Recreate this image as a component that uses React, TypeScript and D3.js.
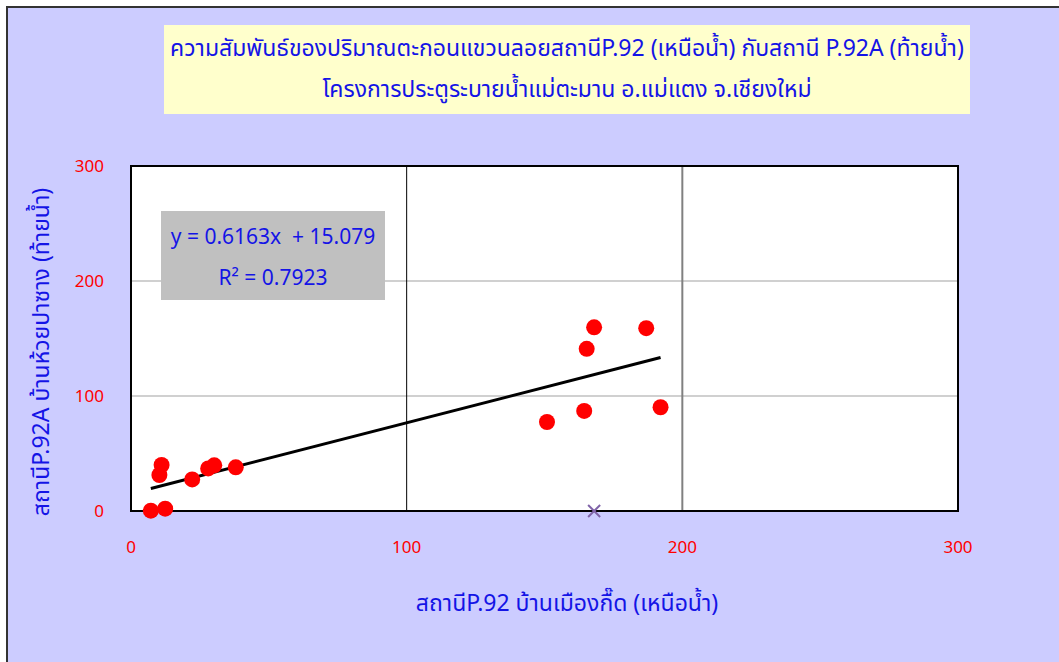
import React from "react";
import * as d3 from "d3";

const xValues = [7.2, 12.4, 11.1, 10.3, 22.2, 28.0, 30.2, 38.0, 168.0, 186.9, 165.3, 164.4, 150.9, 192.1];
const yValues = [0.3, 2.0, 40.0, 31.3, 27.5, 37.0, 39.7, 38.0, 159.7, 159.0, 141.0, 87.0, 77.4, 90.2];
const otherX = [168];
const otherY = [0];
const xTicks = [0, 100, 200, 300];
const yTicks = [0, 100, 200, 300];
const slope = 0.6163;
const intercept = 15.079;
const r2 = 0.7923;

const titleLines = [
  "ความสัมพันธ์ของปริมาณตะกอนแขวนลอยสถานีP.92 (เหนือน้ำ) กับสถานี  P.92A (ท้ายน้ำ)",
  "โครงการประตูระบายน้ำแม่ตะมาน อ.แม่แตง จ.เชียงใหม่",
];
const xLabel = "สถานีP.92 บ้านเมืองกื๊ด (เหนือน้ำ)";
const yLabel = "สถานีP.92A บ้านห้วยปาซาง (ท้ายน้ำ)";

const FONT = "Tahoma, 'Noto Sans Thai', 'Noto Sans', 'DejaVu Sans', sans-serif";
const BLUE = "#1414E6";

export default function App() {
  const W = 1059, H = 662;
  const left = 131, right = 958, top = 166, bottom = 511;
  const x = d3.scaleLinear().domain([0, 300]).range([left, right]);
  const y = d3.scaleLinear().domain([0, 300]).range([bottom, top]);
  const xmin = d3.min(xValues)!;
  const xmax = d3.max(xValues)!;
  const trend = d3.line<number>().x((v) => x(v)).y((v) => y(slope * v + intercept));

  return (
    <svg width={W} height={H} style={{ position: "absolute", left: 0, top: 0 }} fontFamily={FONT}>
      <rect x={0} y={0} width={W} height={H} fill="#ffffff" />
      <rect x={7} y={7} width={W + 20} height={H + 20} fill="#CCCCFF" stroke="#333333" strokeWidth={2} />
      {/* title box */}
      <rect x={164} y={25} width={806} height={89} fill="#FFFFCC" />
      {titleLines.map((t, i) => (
        <text key={i} x={567} y={56 + i * 41} textAnchor="middle" fontSize={23} fill={BLUE}>
          {t}
        </text>
      ))}
      {/* plot area */}
      <rect x={left} y={top} width={right - left} height={bottom - top} fill="#ffffff" />
      {yTicks.filter((v) => v > 0 && v < 300).map((v) => (
        <line key={"hy" + v} x1={left} x2={right} y1={y(v)} y2={y(v)} stroke="#C0C0C0" strokeWidth={1.5} />
      ))}
      {xTicks.filter((v) => v > 0 && v < 300).map((v, i) => (
        <line key={"vx" + v} x1={x(v)} x2={x(v)} y1={top} y2={bottom}
          stroke={i === 0 ? "#000000" : "#808080"} strokeWidth={i === 0 ? 1 : 2} />
      ))}
      <rect x={left} y={top} width={right - left} height={bottom - top} fill="none" stroke="#000" strokeWidth={2} />
      {/* ticks */}
      {yTicks.map((v) => (
        <text key={"ty" + v} x={104} y={y(v) + 6} textAnchor="end" fontSize={17} fill="#FF0000">{v}</text>
      ))}
      {xTicks.map((v) => (
        <text key={"tx" + v} x={x(v)} y={553} textAnchor="middle" fontSize={17} fill="#FF0000">{v}</text>
      ))}
      {/* trend line */}
      <path d={trend([xmin, xmax]) || ""} stroke="#000" strokeWidth={3} fill="none" />
      {/* points */}
      {xValues.map((v, i) => (
        <circle key={"p" + i} cx={x(v)} cy={y(yValues[i])} r={8} fill="#FF0000" />
      ))}
      {otherX.map((v, i) => {
        const cx = x(v), cy = y(otherY[i]);
        const s = 6;
        return (
          <g key={"o" + i} stroke="#7F63A8" strokeWidth={2}>
            <line x1={cx - s} y1={cy - s} x2={cx + s} y2={cy + s} />
            <line x1={cx - s} y1={cy + s} x2={cx + s} y2={cy - s} />
          </g>
        );
      })}
      {/* equation box */}
      <rect x={161} y={211} width={224} height={89} fill="#C0C0C0" />
      <text x={273} y={244} textAnchor="middle" fontSize={21} fill={BLUE} style={{ whiteSpace: "pre" }}>
        {`y = 0.${String(slope).split(".")[1]}x  + ${intercept}`}
      </text>
      <text x={273} y={285} textAnchor="middle" fontSize={21} fill={BLUE}>
        {`R² = ${r2}`}
      </text>
      {/* axis labels */}
      <text x={567} y={611} textAnchor="middle" fontSize={23} fill={BLUE}>{xLabel}</text>
      <text transform="translate(49,352) rotate(-90)" textAnchor="middle" fontSize={23} fill={BLUE}>{yLabel}</text>
    </svg>
  );
}
